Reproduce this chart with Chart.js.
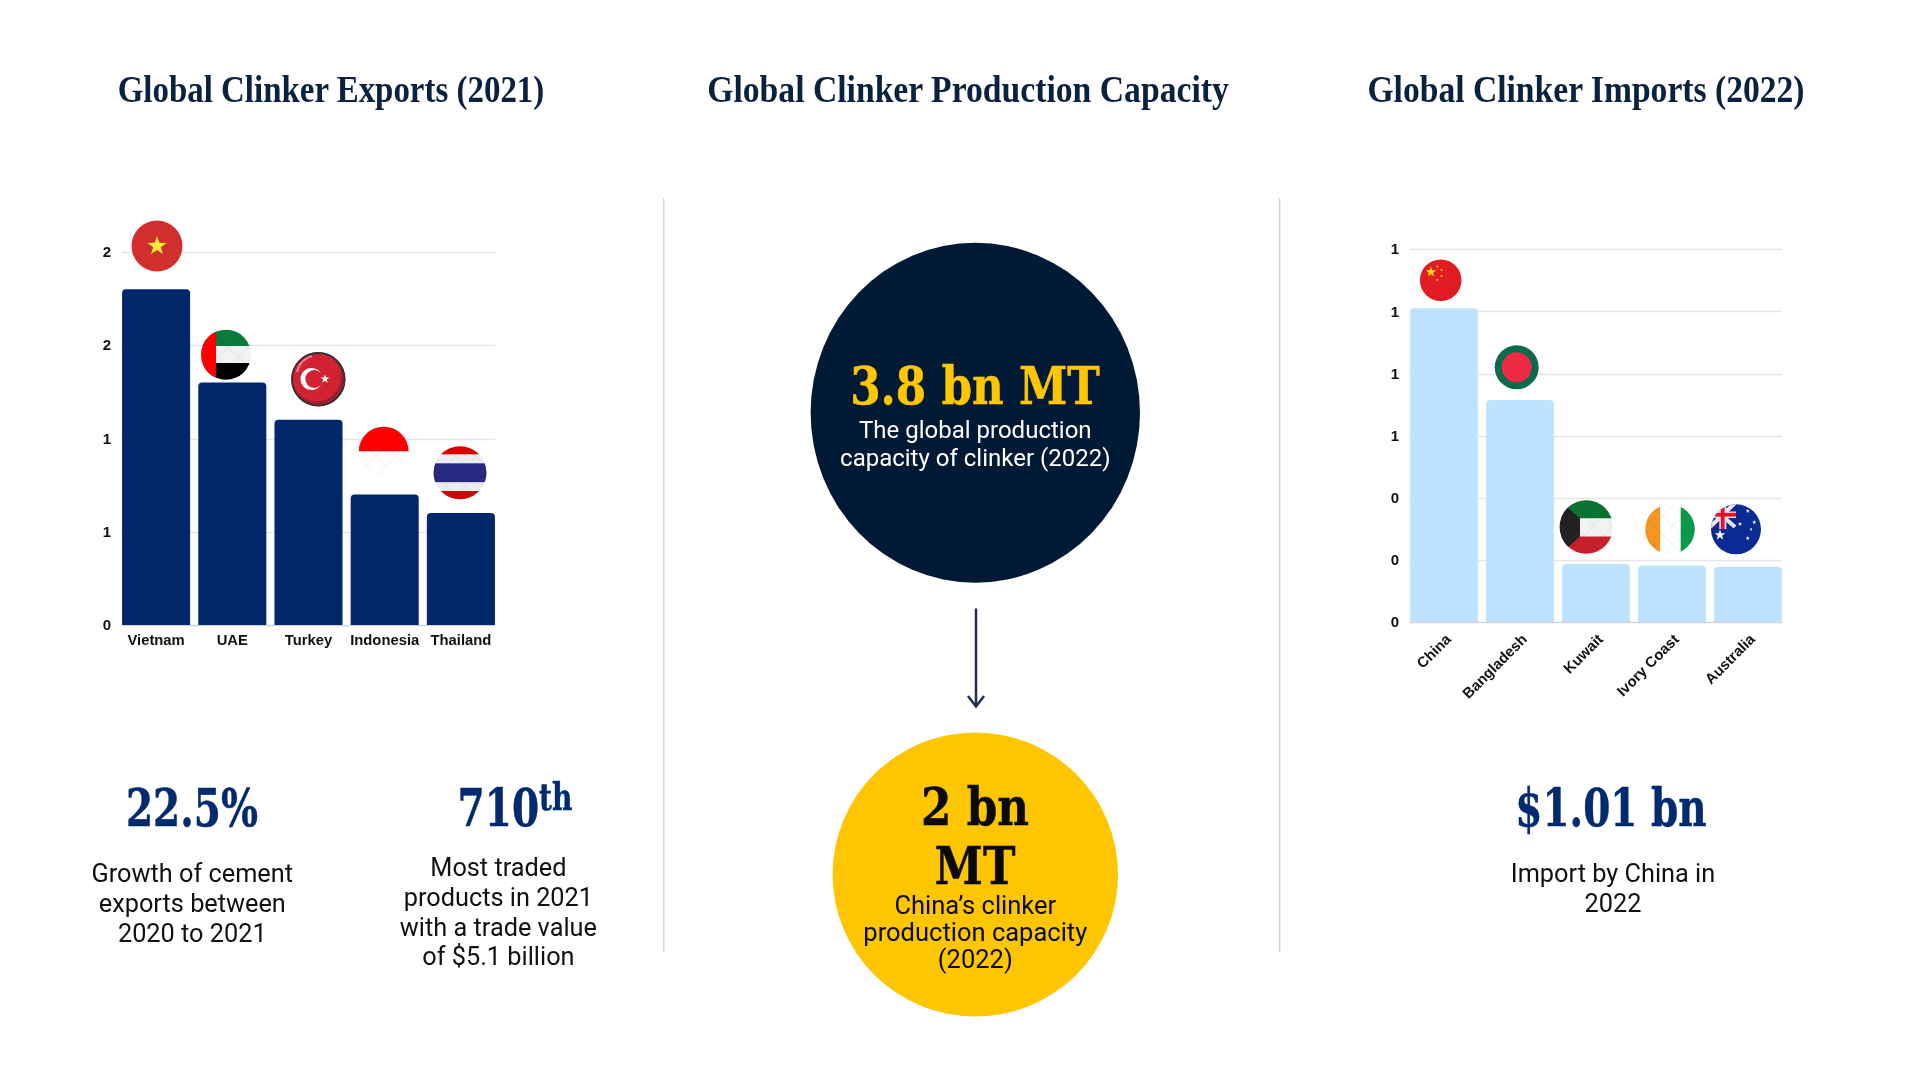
<!DOCTYPE html>
<html><head><meta charset="utf-8">
<script src="https://cdn.jsdelivr.net/npm/chart.js@4"></script>
<style>
html,body{margin:0;padding:0;background:#fff;width:1920px;height:1080px;overflow:hidden}
canvas{position:absolute}
#art{position:absolute;left:0;top:0}
.t{position:absolute;transform:translate(-50%,-50%);white-space:nowrap;text-align:center;line-height:1}
.title{font-family:"Liberation Serif",serif;font-weight:700;font-size:37px;color:#0a2240;transform:translate(-50%,-50%) scaleX(.89)}
.big,.big2{font-family:"DejaVu Serif",serif;font-weight:700;color:#012a6f;font-size:52px;transform:translate(-50%,-50%) scaleX(.75);-webkit-text-stroke:.5px currentColor}
.big2{transform:translate(-50%,-50%) scaleX(.84)}
.body{font-family:Roboto,sans-serif;font-size:25.3px;color:#111}
.sub{font-family:Roboto,sans-serif;font-size:24px}
.sub2{font-family:Roboto,sans-serif;font-size:25.5px;color:#0a0a0a}
sup{font-size:.72em;position:relative;top:-.42em;vertical-align:baseline;line-height:0}
</style></head><body>
<canvas id="exports" width="460" height="430" style="left:60px;top:230px;width:460px;height:430px"></canvas>
<canvas id="imports" width="460" height="520" style="left:1350px;top:230px;width:460px;height:520px"></canvas>
<svg id="art" width="1920" height="1080" viewBox="0 0 1920 1080"></svg>
<div id="texts"></div>
<script>
const exportCountries=["Vietnam","UAE","Turkey","Indonesia","Thailand"];
const exportValues=[1.8,1.3,1.1,0.7,0.6];
const exportMax=2, exportStep=0.5;
const importCountries=["China","Bangladesh","Kuwait","Ivory Coast","Australia"];
const importValues=[1.01,0.715,0.187,0.182,0.177];
const importMax=1.2, importStep=0.2;

const texts=[
 ["title","Global Clinker Exports (2021)",331,89],
 ["title","Global Clinker Production Capacity",967.5,89,"transform:translate(-50%,-50%) scaleX(.91)"],
 ["title","Global Clinker Imports (2022)",1586,89,"transform:translate(-50%,-50%) scaleX(.908)"],
 ["big","22.5%",192.3,808],
 ["big","710<sup>th</sup>",515,808],
 ["body","Growth of cement",192.3,874],["body","exports between",192.3,904],["body","2020 to 2021",192.3,934],
 ["body","Most traded",498.4,868],["body","products in 2021",498.4,898],["body","with a trade value",498.4,927.5],["body","of $5.1 billion",498.4,957],
 ["big","$1.01 bn",1611,808],
 ["body","Import by China in",1613,874],["body","2022",1613,903.5],
 ["big2","3.8 bn MT",975.3,385.7,"color:#fec600"],
 ["sub","The global production",975.3,429.8,"color:#fff"],["sub","capacity of clinker (2022)",975.3,458,"color:#fff"],
 ["big2","2 bn",975.3,807,"color:#0a0a0a"],["big2","MT",975.3,865.7,"color:#0a0a0a"],
 ["sub2","China’s clinker",975.3,906],["sub2","production capacity",975.3,933],["sub2","(2022)",975.3,960]
];
document.getElementById('texts').innerHTML=texts.map(([c,s,x,y,st])=>`<div class="t ${c}" style="left:${x}px;top:${y}px;${st||''}">${s}</div>`).join('');

function star(cx,cy,r,fill){let p=[];for(let i=0;i<10;i++){const a=-Math.PI/2+i*Math.PI/5,q=i%2?r*.4:r;p.push((cx+q*Math.cos(a)).toFixed(1)+','+(cy+q*Math.sin(a)).toFixed(1));}return `<polygon points="${p.join(' ')}" fill="${fill}"/>`;}
let clipN=0;
function flag(cx,cy,r,inner){const id='c'+(clipN++);return `<clipPath id="${id}"><circle cx="${cx}" cy="${cy}" r="${r}"/></clipPath><g clip-path="url(#${id})">${inner}<circle cx="${cx}" cy="${cy}" r="${r}" fill="url(#hatch)"/></g>`;}
function rect(x,y,w,h,f){return `<rect x="${x}" y="${y}" width="${w}" height="${h}" fill="${f}"/>`;}
let a=`<defs><pattern id="hatch" width="14" height="14" patternUnits="userSpaceOnUse" patternTransform="rotate(45)"><path d="M0 0H14M0 0V14" stroke="#000" stroke-opacity=".09" stroke-width="1" fill="none"/></pattern></defs>`;
a+=`<line x1="663.7" y1="198.4" x2="663.7" y2="952.6" stroke="#d4d4d4" stroke-width="1.5"/><line x1="1279.6" y1="198.4" x2="1279.6" y2="952.6" stroke="#d4d4d4" stroke-width="1.5"/>`;
a+=`<ellipse cx="975.3" cy="412.7" rx="164.7" ry="170" fill="#001a36"/><ellipse cx="975.3" cy="874.5" rx="142.7" ry="142" fill="#fec600"/>`;
a+=`<path d="M976 608.6V705M968 696L976 706.5L984 696" stroke="#1d2f4f" stroke-width="2.5" fill="none"/>`;
// Vietnam
a+=flag(157,246,25.5,rect(130,220,54,52,'#d32f2f')+star(157,246,10,'#ffeb3b'));
// UAE
a+=flag(226,354.7,25,rect(200,329,60,17,'#0b7a3b')+rect(200,346,60,17,'#f2f2f2')+rect(200,363,60,17,'#000')+rect(200,329,16,52,'#fe0000'));
// Turkey
a+=flag(318.3,379.3,27,rect(290,352,58,56,'#9a2030')+`<circle cx="316.5" cy="377" r="24.5" fill="#d32232"/><path d="M297 372A21 21 0 0 1 312 356" stroke="#e8808a" stroke-width="2" fill="none"/><circle cx="311.5" cy="379" r="11" fill="#fff"/><circle cx="314.3" cy="379" r="9" fill="#d32232"/>`+star(325,379,4.6,'#fff'));
a+=`<circle cx="318.3" cy="379.3" r="26.3" fill="none" stroke="#333" stroke-width="1.8"/>`;
// Indonesia
a+=flag(383.7,451.7,25,rect(358,426,52,25.5,'#fe0000')+rect(358,451.5,52,26,'#fff'));
// Thailand
a+=flag(460,472.7,26.5,rect(433,446,54,8.5,'#d80000')+rect(433,454.7,54,8.6,'#ebedf0')+rect(433,463.3,54,19,'#262a80')+rect(433,482.7,54,8.4,'#ebedf0')+rect(433,491,54,9,'#d80000'));
// China
a+=flag(1440.7,280.3,20.8,rect(1419,259,44,43,'#e21c24')+star(1431,272,5.5,'#ffe000')+star(1437.3,266.5,1.5,'#ffe000')+star(1441.5,270,1.5,'#ffe000')+star(1441.5,276,1.5,'#ffe000')+star(1437.3,280,1.5,'#ffe000'));
// Bangladesh
a+=flag(1516.7,367.3,22,rect(1494,345,46,45,'#0a6b4f')+`<circle cx="1516.7" cy="367.3" r="15" fill="#ee2a45"/>`);
// Kuwait
a+=flag(1586.3,527,26.7,rect(1559,500,56,18.5,'#0b7233')+rect(1559,518.5,56,18,'#f2f2f2')+rect(1559,536.5,56,18,'#c8202c')+`<polygon points="1559,500 1580,518.5 1580,536.5 1559,555" fill="#222"/>`);
// Ivory Coast
a+=flag(1670,529.3,24.8,rect(1645,504,15,51,'#f7961f')+rect(1660,504,20,51,'#fff')+rect(1680.7,504,15,51,'#0a9a4a'));
// Australia
a+=flag(1736,529.3,25,rect(1710,504,52,51,'#0a2a94')
 +`<path d="M1710 505L1735 527M1735 503L1710 527" stroke="#f2e9ee" stroke-width="4"/>`
 +rect(1710,511.5,26,6.5,'#f2e9ee')+rect(1719.3,503,7,26,'#f2e9ee')
 +rect(1710,512.8,26,3.8,'#e8112d')+rect(1720.8,503,3.8,26,'#e8112d')
 +star(1720,535,5.5,'#fff')+star(1747.7,511,2.2,'#fff')+star(1754.3,522.3,2.2,'#fff')+star(1740,524,2.2,'#fff')+star(1751,529.3,1.7,'#fff')+star(1747.7,538.3,2.2,'#fff'));
document.getElementById('art').innerHTML=a;

const gridPlugin={id:'grid',beforeDatasetsDraw(c,_,o){
  const y=c.scales.y,ctx=c.ctx;ctx.save();
  y.ticks.forEach(t=>{const p=Math.round(y.getPixelForValue(t.value))+.5;
    ctx.strokeStyle=t.value===0?'#d2d2d2':'#e6e6e6';ctx.lineWidth=1.5;
    ctx.beginPath();ctx.moveTo(c.chartArea.left+o.inset,p);ctx.lineTo(c.chartArea.right-o.inset,p);ctx.stroke();});
  ctx.restore();}};
function build(id,labels,data,max,step,color,padding,yW,xH,xOpts){
  return new Chart(document.getElementById(id),{type:'bar',
    data:{labels,datasets:[{data,backgroundColor:color,borderRadius:{topLeft:4,topRight:4},borderSkipped:'bottom',barPercentage:.893,categoryPercentage:1}]},
    plugins:[gridPlugin],
    options:{responsive:false,animation:false,devicePixelRatio:1,layout:{padding},
      plugins:{legend:{display:false},tooltip:{enabled:false},title:{display:false},grid:{inset:4}},
      scales:{
        y:{min:0,max,grid:{display:false,tickLength:0},border:{display:false},afterFit(s){s.width=yW;},
           ticks:{stepSize:step,padding:7,labelOffset:1,color:'#111',font:{family:'"Liberation Sans"',weight:'700',size:15},callback:v=>v.toFixed(0)}},
        x:{grid:{display:false,tickLength:0},border:{display:false},afterFit(s){s.height=xH;},
           ticks:Object.assign({color:'#111',font:{family:'"Liberation Sans"',weight:'700',size:14.8},autoSkip:false},xOpts)}
      }}});
}
build('exports',exportCountries,exportValues,exportMax,exportStep,'#02276b',{left:0,top:22,right:21,bottom:0},58,35,{padding:7,maxRotation:0,minRotation:0});
build('imports',importCountries,importValues,importMax,importStep,'#bee3ff',{left:0,top:19.3,right:24,bottom:0},56,128,{padding:9,maxRotation:45,minRotation:45,labelOffset:5});
</script>
</body></html>
